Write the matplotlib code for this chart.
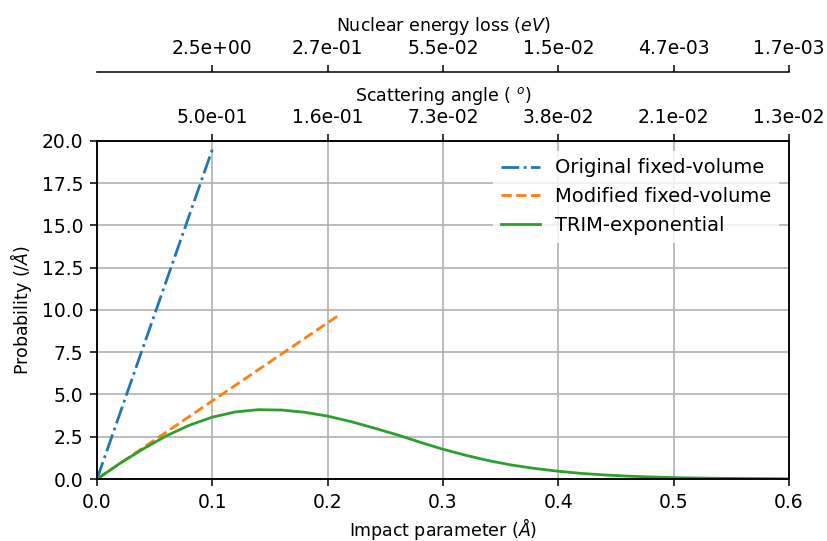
import numpy as np
import matplotlib
matplotlib.use('Agg')
import matplotlib.pyplot as plt

# donnees
b_orig = [0.0, 0.1]
p_orig = [0.0, 19.5]

b_modif = [0.0, 0.209]
p_modif = [0.0, 9.66]

b_trim = [0.0, 0.02, 0.04, 0.06, 0.08, 0.10, 0.12, 0.14, 0.16, 0.18, 0.20,
          0.22, 0.24, 0.26, 0.28, 0.30, 0.32, 0.34, 0.36, 0.38, 0.40,
          0.42, 0.44, 0.46, 0.48, 0.50, 0.52, 0.54, 0.56, 0.58, 0.60]
p_trim = [0.0, 0.93, 1.78, 2.55, 3.18, 3.66, 3.97, 4.10, 4.08, 3.95, 3.72,
          3.40, 3.02, 2.62, 2.18, 1.76, 1.40, 1.08, 0.82, 0.62, 0.46,
          0.33, 0.24, 0.17, 0.12, 0.08, 0.06, 0.04, 0.03, 0.02, 0.01]

# axes du haut
tick_pos = [0.1, 0.2, 0.3, 0.4, 0.5, 0.6]
angle_labels = ['5.0e-01', '1.6e-01', '7.3e-02', '3.8e-02', '2.1e-02', '1.3e-02']
energy_labels = ['2.5e+00', '2.7e-01', '5.5e-02', '1.5e-02', '4.7e-03', '1.7e-03']

plt.rcParams['axes.linewidth'] = 1.1
plt.rcParams['xtick.major.width'] = 1.1
plt.rcParams['ytick.major.width'] = 1.1
plt.rcParams['xtick.major.size'] = 4.9
plt.rcParams['ytick.major.size'] = 4.9
plt.rcParams['xtick.major.pad'] = 4.9
plt.rcParams['ytick.major.pad'] = 4.9

fs_tick = 13.5
fs_lab = 12.5

fig = plt.figure(figsize=(8.27, 5.41), dpi=100)
ax = fig.add_axes([0.1173, 0.1146, 0.8367, 0.6248])

ax.plot(b_orig, p_orig, '-.', lw=2, label='Original fixed-volume')
ax.plot(b_modif, p_modif, '--', lw=2, label='Modified fixed-volume')
ax.plot(b_trim, p_trim, '-', lw=2, label='TRIM-exponential')

ax.set_xlim(0, 0.6)
ax.set_ylim(0, 20)
ax.set_yticks(np.arange(0, 20.1, 2.5))
ax.yaxis.set_major_formatter(matplotlib.ticker.FormatStrFormatter('%.1f'))
ax.grid(True, lw=1.2, color='#b0b0b0')
ax.tick_params(labelsize=fs_tick)
ax.set_xlabel(r'Impact parameter ($\AA$)', fontsize=fs_lab, labelpad=3.5)
ax.set_ylabel(r'Probability (/$\AA$)', fontsize=fs_lab, labelpad=5.5)
leg = ax.legend(fontsize=14, loc='upper right', framealpha=0.8, edgecolor='none')

# angle de diffusion
ax2 = ax.twiny()
ax2.set_xlim(ax.get_xlim())
ax2.set_xticks(tick_pos)
ax2.set_xticklabels(angle_labels, fontsize=fs_tick)
ax2.set_xlabel(r'Scattering angle ( $^o$)', fontsize=fs_lab, labelpad=5.5)

# perte d'energie nucleaire
ax3 = ax.twiny()
ax3.set_xlim(ax.get_xlim())
ax3.spines['top'].set_position(('outward', 50))
for s in ['left', 'right', 'bottom']:
    ax3.spines[s].set_visible(False)
ax3.set_xticks(tick_pos)
ax3.set_xticklabels(energy_labels, fontsize=fs_tick)
ax3.set_xlabel(r'Nuclear energy loss ($eV$)', fontsize=fs_lab, labelpad=5.5)

fig.savefig('out.png', dpi=100)
